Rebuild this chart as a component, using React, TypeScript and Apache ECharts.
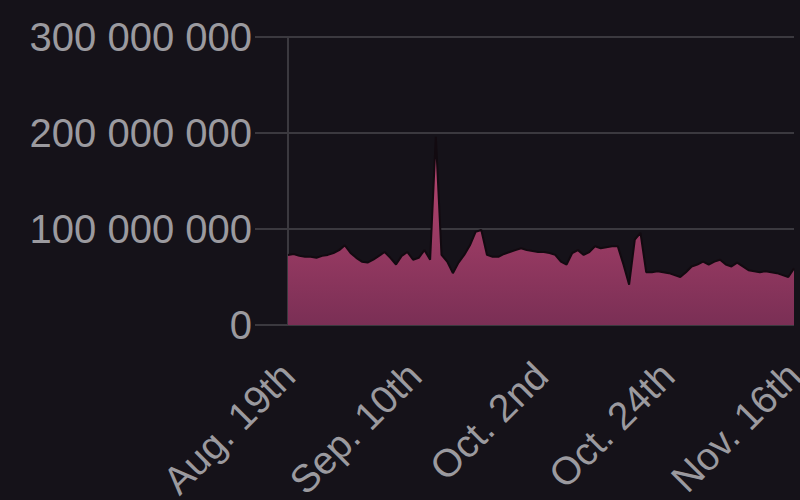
import React, { useEffect, useRef } from "react";
import * as echarts from "echarts";

// Daily values, Aug. 19th .. Nov. 16th (90 days)
const values: number[] = [
  73e6, 74e6, 72e6, 71e6, 71e6, 70e6, 72e6, 73e6, 75e6, 78e6,
  83e6, 75e6, 70e6, 66e6, 65e6, 68e6, 72e6, 76e6, 70e6, 63e6,
  72e6, 76e6, 68e6, 70e6, 78e6, 68e6, 196e6, 73e6, 66e6, 54e6,
  65e6, 73e6, 83e6, 97e6, 99e6, 73e6, 71e6, 71e6, 74e6, 76e6,
  78e6, 80e6, 78e6, 77e6, 76e6, 76e6, 75e6, 73e6, 66e6, 63e6,
  75e6, 78e6, 73e6, 76e6, 82e6, 80e6, 81e6, 82e6, 82e6, 63e6,
  42e6, 89e6, 96e6, 55e6, 55e6, 56e6, 55e6, 54e6, 52e6, 50e6,
  55e6, 61e6, 63e6, 66e6, 63e6, 66e6, 68e6, 63e6, 61e6, 65e6,
  61e6, 57e6, 56e6, 55e6, 56e6, 55e6, 54e6, 52e6, 50e6, 59e6,
];

const tickLabels: string[] = ["Aug. 19th", "Sep. 10th", "Oct. 2nd", "Oct. 24th", "Nov. 16th"];

const yMax = 300000000;
const yStep = 100000000;

function fmtSpaces(v: number): string {
  return String(Math.round(v)).replace(/\B(?=(\d{3})+(?!\d))/g, " ");
}

export default function App() {
  const ref = useRef<HTMLDivElement>(null);
  useEffect(() => {
    if (!ref.current) return;
    const chart = echarts.init(ref.current, undefined, { renderer: "svg" });
    const lastIdx = values.length - 1;
    const step = lastIdx / (tickLabels.length - 1);
    const grey = "#3b393f";
    const font = "'Liberation Sans', Arial, sans-serif";
    chart.setOption({
      animation: false,
      backgroundColor: "#151219",
      grid: {
        left: 288,
        right: 6,
        top: 37,
        bottom: 175,
        containLabel: false,
        outerBoundsMode: "none",
      },
      xAxis: {
        type: "value",
        min: 0,
        max: lastIdx,
        interval: step,
        axisLine: { show: false },
        axisTick: { show: false },
        splitLine: { show: false },
        axisLabel: {
          rotate: 45,
          margin: 44,
          color: "#9b9a9f",
          fontSize: 39,
          fontFamily: font,
          showMinLabel: true,
          showMaxLabel: true,
          hideOverlap: false,
          formatter: (v: number) => tickLabels[Math.round(v / step)] ?? "",
        },
      },
      yAxis: {
        type: "value",
        min: 0,
        max: yMax,
        interval: yStep,
        axisLine: { show: true, lineStyle: { color: grey, width: 2 } },
        axisTick: { show: true, length: 33, lineStyle: { color: grey, width: 2 } },
        splitLine: { show: true, lineStyle: { color: grey, width: 2 } },
        axisLabel: {
          margin: 36,
          color: "#9b9a9f",
          fontSize: 40,
          fontFamily: font,
          formatter: (v: number) => fmtSpaces(v),
        },
      },
      series: [
        {
          type: "line",
          data: values.map((v, i) => [i, v]),
          showSymbol: false,
          symbol: "none",
          lineStyle: { color: "#120a10", width: 2 },
          areaStyle: {
            opacity: 1,
            color: new echarts.graphic.LinearGradient(0, 0, 0, 1, [
              { offset: 0, color: "#bd4873" },
              { offset: 1, color: "#7a2f55" },
            ]),
          },
        },
      ],
    });
    return () => chart.dispose();
  }, []);
  return (
    <div
      ref={ref}
      style={{ position: "fixed", left: 0, top: 0, width: 800, height: 500 }}
    />
  );
}
